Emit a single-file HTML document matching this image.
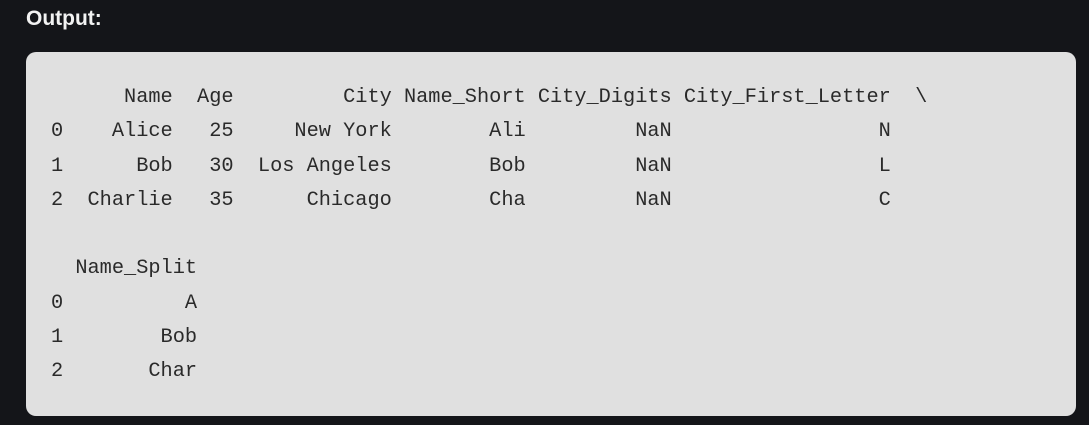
<!DOCTYPE html>
<html><head><meta charset="utf-8"><style>
html,body{margin:0;padding:0;background:#141519;width:1089px;height:425px;overflow:hidden}
.t{position:absolute;left:26px;top:7px;font-family:"Liberation Sans",sans-serif;font-weight:bold;font-size:21px;color:#f2f2f2}
.box{position:absolute;left:26px;top:52px;width:1050px;height:364px;background:#e0e0e0;border-radius:10px}
pre{position:absolute;left:51px;top:81px;margin:0;font-family:"Liberation Mono",monospace;font-size:20.3px;line-height:34.3px;color:#2a2a2a}
</style></head><body>
<div class="t">Output:</div>
<div class="box"></div>
<pre>      Name  Age         City Name_Short City_Digits City_First_Letter  \
0    Alice   25     New York        Ali         NaN                 N  
1      Bob   30  Los Angeles        Bob         NaN                 L  
2  Charlie   35      Chicago        Cha         NaN                 C  

  Name_Split
0          A
1        Bob
2       Char</pre>
</body></html>
